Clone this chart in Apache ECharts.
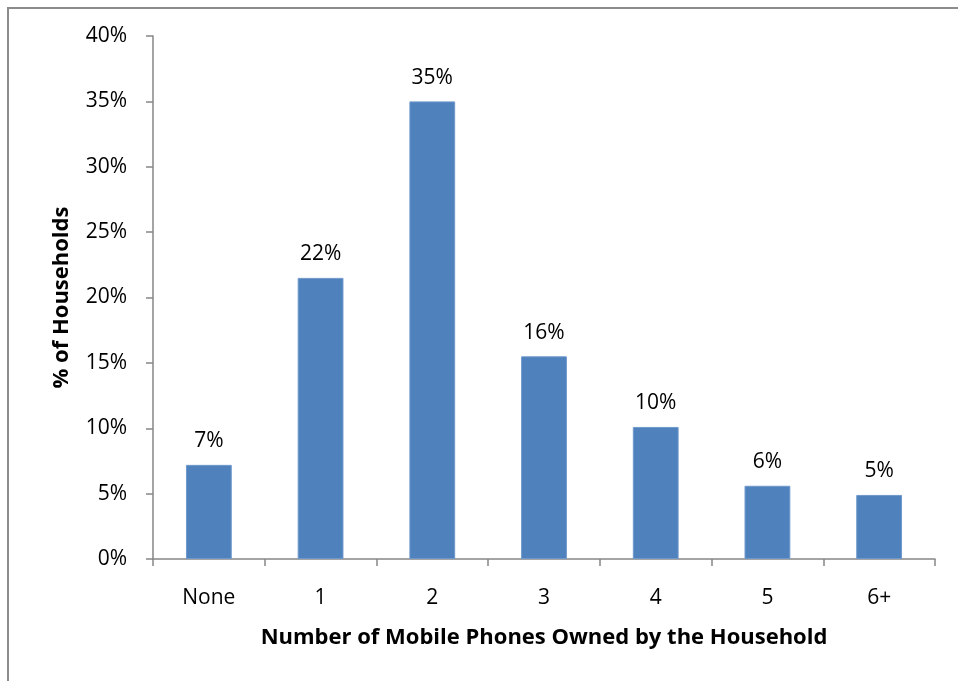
<!DOCTYPE html>
<html><head><meta charset="utf-8">
<script src="https://cdn.jsdelivr.net/npm/echarts@6/dist/echarts.min.js"></script>
<style>html,body{margin:0;padding:0;background:#fff}#c{width:958px;height:681px}</style>
</head><body><div id="c"></div>
<script>
const categories = ['None', '1', '2', '3', '4', '5', '6+'];
const shares = [7.2, 21.5, 35.0, 15.5, 10.1, 5.6, 4.9];
const yTicks = [0, 5, 10, 15, 20, 25, 30, 35, 40];
const xTitle = 'Number of Mobile Phones Owned by the Household';
const yTitle = '% of Households';

const font = 'Open Sans';
const chart = echarts.init(document.getElementById('c'), null, {renderer: 'canvas'});
chart.setOption({
  animation: false,
  graphic: [{type: 'rect', shape: {x: 8, y: 8, width: 1200, height: 1000}, style: {fill: 'none', stroke: '#8c8c8c', lineWidth: 2}}],
  grid: {left: 153, right: 23, top: 36, bottom: 122},
  xAxis: {
    type: 'category', data: categories,
    axisLine: {lineStyle: {color: '#868686', width: 1.5}},
    axisTick: {show: true, length: 7, alignWithLabel: false, lineStyle: {color: '#868686', width: 1.5}},
    axisLabel: {color: '#000', fontFamily: font, fontSize: 21, margin: 29},
    name: xTitle, nameLocation: 'middle', nameGap: 68,
    nameTextStyle: {color: '#000', fontFamily: font, fontSize: 22, fontWeight: 'bold'}
  },
  yAxis: {
    type: 'value', min: yTicks[0], max: yTicks[yTicks.length - 1], interval: 5,
    axisLine: {show: true, lineStyle: {color: '#868686', width: 1.5}},
    axisTick: {show: true, length: 7, lineStyle: {color: '#868686', width: 1.5}},
    splitLine: {show: false},
    axisLabel: {color: '#000', fontFamily: font, fontSize: 21, margin: 26, formatter: v => v + '%'},
    name: yTitle, nameLocation: 'middle', nameGap: 80, nameRotate: 90,
    nameTextStyle: {color: '#000', fontFamily: font, fontSize: 22, fontWeight: 'bold'}
  },
  series: [{
    type: 'bar', data: shares, barWidth: '41%',
    itemStyle: {color: '#4F81BD', borderColor: '#6f99cc', borderWidth: 1},
    label: {show: true, position: 'top', distance: 13, color: '#000', fontFamily: font, fontSize: 21,
      formatter: p => Math.round(p.value) + '%'}
  }]
});
</script></body></html>
